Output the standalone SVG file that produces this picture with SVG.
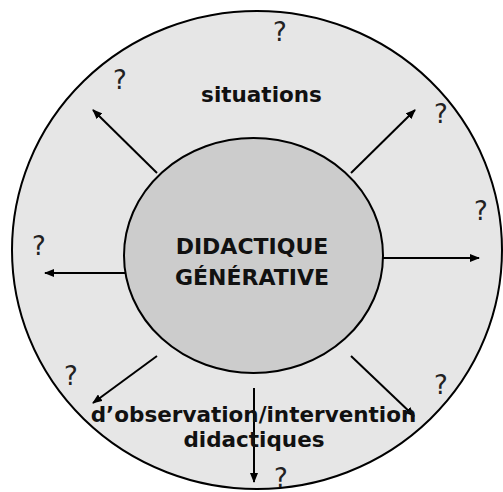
<svg xmlns="http://www.w3.org/2000/svg" width="503" height="492" viewBox="0 0 503 492">
<style>
.ln{stroke:#000;stroke-width:2;fill:none;marker-end:url(#ah)}
.lbl{font-family:"DejaVu Sans",Verdana,sans-serif;font-weight:bold;fill:#111;text-anchor:middle}
.q{font-family:"DejaVu Sans",Verdana,sans-serif;font-size:26px;fill:#222;text-anchor:middle}
</style>
<defs>
<marker id="ah" markerWidth="10" markerHeight="8" refX="9" refY="4" orient="auto" markerUnits="userSpaceOnUse">
<path d="M0,0 L10,4 L0,8 Z" fill="#000"/>
</marker>
</defs>
<g id="outer">
<ellipse cx="257" cy="250" rx="245" ry="239" fill="#e6e6e6" stroke="#000" stroke-width="2"/>
</g>
<g id="connectors">
<line class="ln" x1="157" y1="173" x2="93" y2="110"/>
<line class="ln" x1="351" y1="173" x2="415" y2="110"/>
<line class="ln" x1="383" y1="258" x2="479" y2="258"/>
<line class="ln" x1="125" y1="273" x2="45" y2="273"/>
<line class="ln" x1="157" y1="356" x2="93" y2="403"/>
<line class="ln" x1="351" y1="356" x2="414" y2="416"/>
<line class="ln" x1="254" y1="388" x2="254" y2="482"/>
</g>
<g id="center">
<ellipse cx="253.5" cy="255.5" rx="129.5" ry="117.5" fill="#cccccc" stroke="#000" stroke-width="2"/>
<text class="lbl" x="252" y="254" font-size="22">DIDACTIQUE</text>
<text class="lbl" x="252" y="285" font-size="22">GÉNÉRATIVE</text>
</g>
<g id="labels">
<text class="lbl" x="261.5" y="102" font-size="21.5">situations</text>
<text class="lbl" x="253.5" y="422" font-size="21.5">d’observation/intervention</text>
<text class="lbl" x="254" y="447" font-size="21.5">didactiques</text>
</g>
<g id="questions">
<text class="q" x="280" y="41">?</text>
<text class="q" x="120" y="89">?</text>
<text class="q" x="441" y="123">?</text>
<text class="q" x="481" y="220">?</text>
<text class="q" x="39" y="255">?</text>
<text class="q" x="71" y="385">?</text>
<text class="q" x="441" y="394">?</text>
<text class="q" x="281" y="487">?</text>
</g>
</svg>
